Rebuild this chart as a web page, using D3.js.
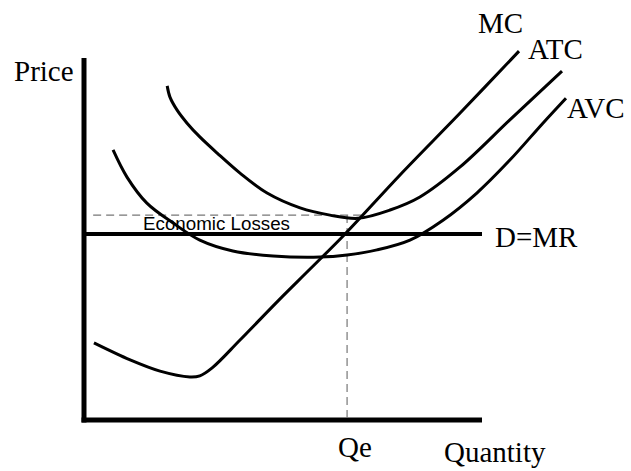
<!DOCTYPE html>
<html>
<head>
<meta charset="utf-8">
<script src="https://cdn.jsdelivr.net/npm/d3@7/dist/d3.min.js"></script>
<style>
  html, body { margin: 0; padding: 0; background: #fff; }
  svg { display: block; }
  .lbl { font-family: "Liberation Serif", "Times New Roman", serif; font-size: 29px; fill: #000; }
  .note { font-family: "Liberation Sans", Arial, sans-serif; font-size: 18px; fill: #000; }
</style>
</head>
<body>
<svg id="chart" width="631" height="471"></svg>
<script>
// Cost curves of a firm in a perfectly competitive market (quantity, price)
const mcQ  = [2.5, 11.6, 19.1, 26.6, 29.1, 32.2, 39.2, 49.2, 56.8, 65.6, 79.4, 94.5, 109.3];
const mcP  = [21.3, 16.6, 13.5, 11.9, 12.2, 14.4, 22.1, 33.4, 41.7, 51.4, 67.7, 84.8, 101.9];

const atcQ = [20.9, 21.6, 23.4, 25.9, 29.1, 33.4, 39.2, 46.0, 54.3, 61.8, 68.8, 76.9, 84.4, 94.5, 107.0, 120.1];
const atcP = [92.3, 89.2, 85.6, 82.0, 78.2, 73.8, 68.2, 62.7, 58.6, 56.6, 55.7, 58.0, 61.6, 69.9, 82.9, 96.4];

const avcQ = [7.3, 10.8, 15.8, 22.4, 29.1, 37.4, 47.5, 59.3, 66.1, 73.6, 81.9, 90.2, 98.7, 107.0, 115.3, 121.1];
const avcP = [74.6, 67.1, 59.9, 54.4, 49.7, 46.7, 45.3, 45.0, 45.6, 47.0, 49.7, 55.2, 62.7, 71.8, 82.0, 88.9];

// Market price (demand = marginal revenue), equilibrium quantity and ATC at Qe
const priceMR = 51.4;
const qe = 66.1;
const atcAtQe = 56.6;
const lossStartQ = 2.3;

const curveNames = ["MC", "ATC", "AVC"];
const labels = { price: "Price", quantity: "Quantity", qe: "Qe", mr: "D=MR", loss: "Economic Losses" };

const svg = d3.select("#chart");

const x = d3.scaleLinear().domain([0, 100]).range([84, 482]);
const y = d3.scaleLinear().domain([0, 100]).range([420, 58]);

// Axes: plain thick lines without ticks
const xAxis = svg.append("g")
  .attr("transform", `translate(0,${y(0)})`)
  .call(d3.axisBottom(x).ticks(0).tickSizeOuter(0));
xAxis.select(".domain").attr("stroke", "#000").attr("stroke-width", 5)
  .attr("d", `M${x(0) - 2.5},0H${x(100)}`);

const yAxis = svg.append("g")
  .attr("transform", `translate(${x(0)},0)`)
  .call(d3.axisLeft(y).ticks(0).tickSizeOuter(0));
yAxis.select(".domain").attr("stroke", "#000").attr("stroke-width", 5)
  .attr("d", `M0,${y(0) + 2.5}V${y(100)}`);

// Dashed guides: ATC level at Qe and the Qe drop line
svg.append("line")
  .attr("x1", x(lossStartQ)).attr("x2", x(qe + 3.5))
  .attr("y1", y(atcAtQe)).attr("y2", y(atcAtQe))
  .attr("stroke", "#777").attr("stroke-width", 1.2).attr("stroke-dasharray", "8,5");
svg.append("line")
  .attr("x1", x(qe)).attr("x2", x(qe))
  .attr("y1", y(atcAtQe)).attr("y2", y(0))
  .attr("stroke", "#777").attr("stroke-width", 1.2).attr("stroke-dasharray", "8,5");

// Demand / marginal revenue line
svg.append("line")
  .attr("x1", x(0)).attr("x2", x(100))
  .attr("y1", y(priceMR)).attr("y2", y(priceMR))
  .attr("stroke", "#000").attr("stroke-width", 4);

// Cost curves
const line = d3.line()
  .x(d => x(d[0])).y(d => y(d[1]))
  .curve(d3.curveCatmullRom.alpha(0.5));

const series = [
  d3.zip(mcQ, mcP),
  d3.zip(atcQ, atcP),
  d3.zip(avcQ, avcP)
];

svg.selectAll("path.cost")
  .data(series)
  .join("path")
  .attr("class", "cost")
  .attr("fill", "none")
  .attr("stroke", "#000")
  .attr("stroke-width", 3)
  .attr("d", line);

// Text
svg.append("text").attr("class", "note")
  .attr("x", 143).attr("y", 230)
  .attr("textLength", 147).attr("lengthAdjust", "spacingAndGlyphs")
  .text(labels.loss);

svg.append("text").attr("class", "lbl").attr("x", 14).attr("y", 81).text(labels.price);
svg.append("text").attr("class", "lbl").attr("x", 478).attr("y", 33).text(curveNames[0]);
svg.append("text").attr("class", "lbl").attr("x", 528).attr("y", 59).text(curveNames[1]);
svg.append("text").attr("class", "lbl").attr("x", 567).attr("y", 118).text(curveNames[2]);
svg.append("text").attr("class", "lbl").attr("x", 495).attr("y", 247).text(labels.mr);
svg.append("text").attr("class", "lbl").attr("x", 338).attr("y", 457).text(labels.qe);
svg.append("text").attr("class", "lbl").attr("x", 444).attr("y", 462).text(labels.quantity);
</script>
</body>
</html>
